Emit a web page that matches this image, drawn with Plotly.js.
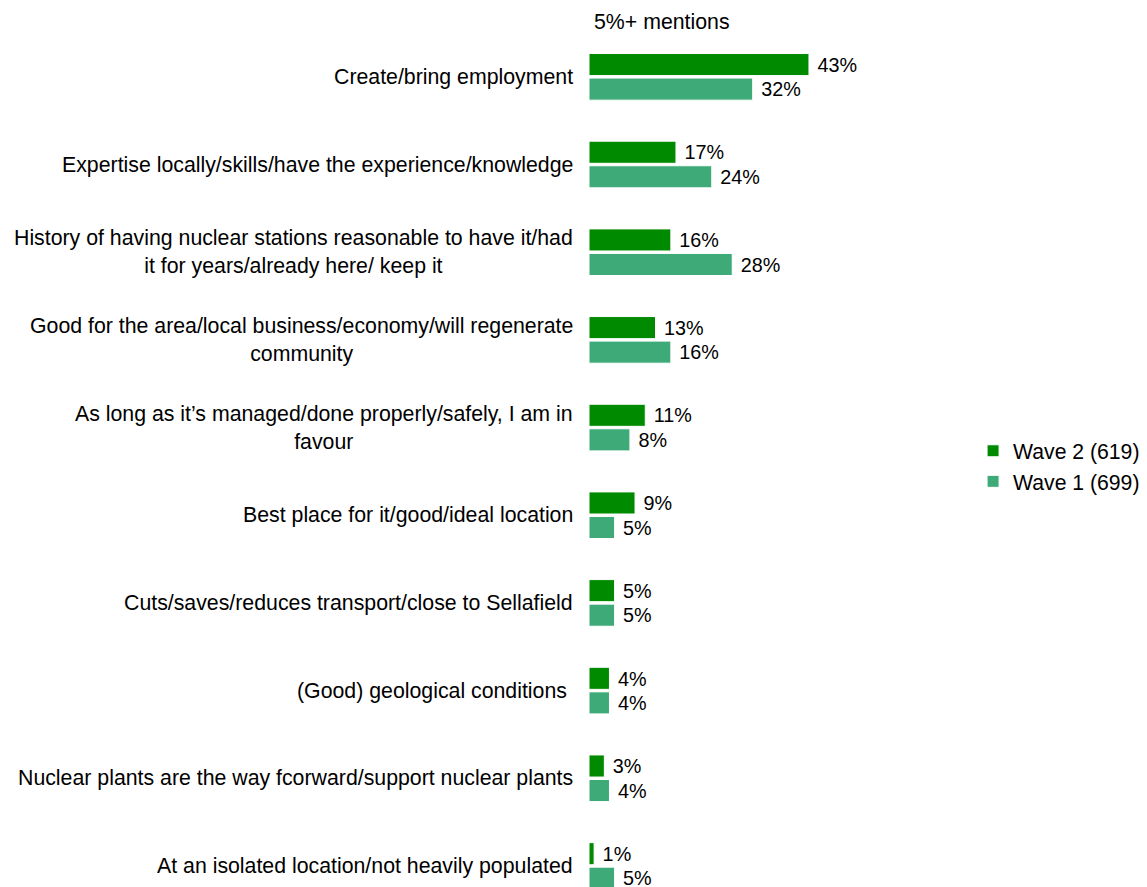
<!DOCTYPE html>
<html>
<head>
<meta charset="utf-8">
<script src="https://cdn.plot.ly/plotly-3.0.1.min.js"></script>
<style>html,body{margin:0;padding:0;background:#fff;}#chart{width:1147px;height:887px;}</style>
</head>
<body>
<div id="chart"></div>
<script>
const categories = [
  "Create/bring employment",
  "Expertise locally/skills/have the experience/knowledge",
  "History of having nuclear stations reasonable to have it/had<br>it for years/already here/ keep it",
  "Good for the area/local business/economy/will regenerate<br>community",
  "As long as it\u2019s managed/done properly/safely, I am in<br>favour",
  "Best place for it/good/ideal location",
  "Cuts/saves/reduces transport/close to Sellafield",
  "(Good) geological conditions ",
  "Nuclear plants are the way fcorward/support nuclear plants",
  "At an isolated location/not heavily populated"
];
const wave2 = [43, 17, 16, 13, 11, 9, 5, 4, 3, 1];
const wave1 = [32, 24, 28, 16, 8, 5, 5, 4, 4, 5];
const seriesNames = ["Wave 2 (619)", "Wave 1 (699)"];
const titleText = "5%+ mentions";

const FONT = "Liberation Sans, Arial, sans-serif";
const mk = (vals, name, color) => ({
  type: "bar", orientation: "h", y: categories, x: vals, name: name,
  marker: {color: color, line: {color: "#ffffff", width: 1}},
  text: vals.map(v => "\u00a0" + v + "%"), textposition: "outside",
  textfont: {family: FONT, size: 20.6, color: "#000"}, cliponaxis: false,
  hoverinfo: "none"
});
const data = [mk(wave2, seriesNames[0], "#008a00"), mk(wave1, seriesNames[1], "#3daa78")];

const annotations = categories.map(c => ({
  xref: "paper", yref: "y", x: 0, y: c, xanchor: "right", yanchor: "middle",
  xshift: -14, text: c, showarrow: false, align: "center",
  font: {family: FONT, size: 21.3, color: "#000"}
}));
annotations.push({
  xref: "paper", yref: "paper", x: 0, y: 1, xanchor: "left", yanchor: "bottom",
  xshift: 3, yshift: -3, text: titleText, showarrow: false,
  font: {family: FONT, size: 21.3, color: "#000"}
});

const layout = {
  width: 1147, height: 887,
  margin: {l: 589, r: 160, t: 33, b: 0},
  paper_bgcolor: "#fff", plot_bgcolor: "#fff",
  barmode: "group", bargap: 0.44, bargroupgap: 0.1,
  showlegend: true,
  legend: {x: 0.965, y: 0.4924, xanchor: "left", yanchor: "middle",
           font: {family: FONT, size: 21.2, color: "#000"}, traceorder: "normal",
           itemwidth: 30, bgcolor: "rgba(0,0,0,0)", tracegroupgap: 0},
  xaxis: {range: [0, 77.8], visible: false, fixedrange: true},
  yaxis: {type: "category", range: [9.24, -0.5], showticklabels: false, ticks: "",
          showgrid: false, zeroline: false, showline: false, fixedrange: true},
  annotations: annotations,
  font: {family: FONT, size: 21, color: "#000"}
};
Plotly.newPlot("chart", data, layout, {displayModeBar: false, staticPlot: true});
</script>
</body>
</html>
